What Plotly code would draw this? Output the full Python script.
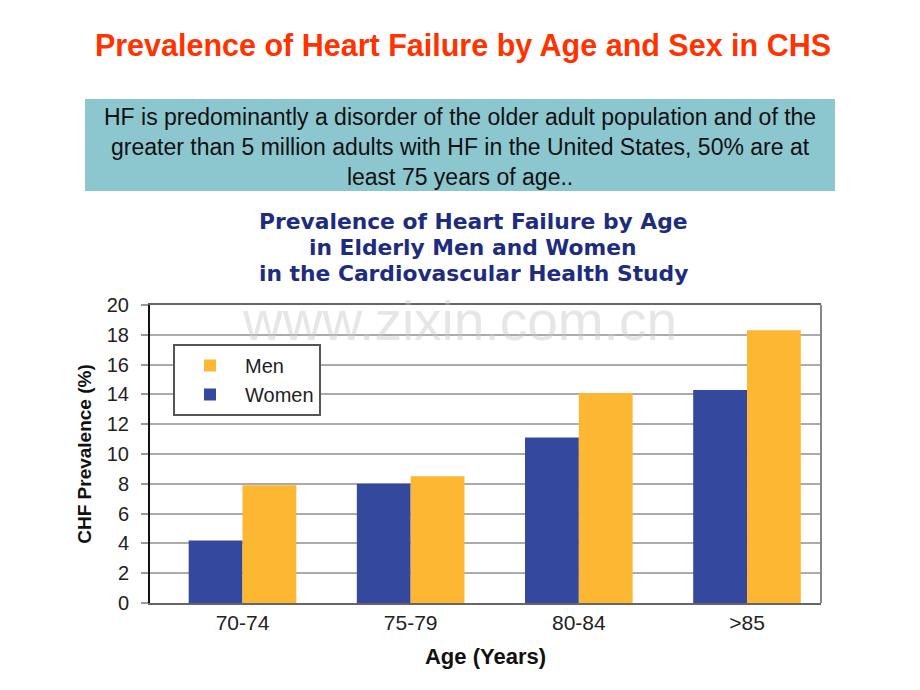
import plotly.graph_objects as go

# ---- data ----
age_groups = ["70-74", "75-79", "80-84", ">85"]
women = [4.2, 8.0, 11.1, 14.3]
men = [7.9, 8.5, 14.1, 18.3]
y_ticks = [0, 2, 4, 6, 8, 10, 12, 14, 16, 18, 20]

# ---- layout geometry (pixels; page has an 8px body margin) ----
OFF = 8
W, H = 920, 690
ML, MT = 150 - OFF, 305 - OFF
MR, MB = W - (821 - OFF), H - (603 - OFF)
PW, PH = W - ML - MR, H - MT - MB


def px(x):
    return (x - OFF - ML) / PW


def py(y):
    return (H - MB - (y - OFF)) / PH


WOMEN_C = "#34499D"
MEN_C = "#FDB733"
SANS = "Liberation Sans, Arial, Helvetica, sans-serif"
WIDE = "DejaVu Sans, Verdana, sans-serif"

fig = go.Figure()
fig.add_trace(go.Bar(x=age_groups, y=women, name="Women", marker_color=WOMEN_C,
                     marker_line_width=0))
fig.add_trace(go.Bar(x=age_groups, y=men, name="Men", marker_color=MEN_C,
                     marker_line_width=0))

sub_lines = ["Prevalence of Heart Failure by Age",
             "in Elderly Men and Women",
             "in the Cardiovascular Health Study"]
sub_y = [221, 247, 273]

annotations = [
    dict(text="HF is predominantly a disorder of the older adult population and of the<br>"
              "greater than 5 million adults with HF in the United States, 50% are at<br>"
              "least 75 years of age..",
         xref="paper", yref="paper", x=px(460), y=py(147),
         xanchor="center", yanchor="middle", showarrow=False, align="center",
         font=dict(family=SANS, size=23, color="#111")),
    dict(text="www.zixin.com.cn", xref="paper", yref="paper",
         x=px(459), y=py(321), xanchor="center", yanchor="middle",
         showarrow=False, font=dict(family=SANS, size=55, color="rgba(200,200,200,0.45)")),
]
for t, yy in zip(sub_lines, sub_y):
    annotations.append(dict(text="<b>" + t + "</b>", xref="paper", yref="paper",
                            x=px(473), y=py(yy), xanchor="center", yanchor="middle",
                            showarrow=False,
                            font=dict(family=WIDE, size=21.8, color="#1E2C80")))

fig.update_layout(
    width=W, height=H,
    margin=dict(l=ML, r=MR, t=MT, b=MB, autoexpand=False),
    paper_bgcolor="white", plot_bgcolor="white",
    barmode="group", bargap=0.36, bargroupgap=0,
    showlegend=True,
    legend=dict(x=px(173), y=py(344), xanchor="left", yanchor="top",
                traceorder="reversed", bgcolor="white",
                bordercolor="#555", borderwidth=2,
                font=dict(family=SANS, size=20, color="#222"),
                itemwidth=60, tracegroupgap=0),
    title=dict(text="<b>Prevalence of Heart Failure by Age and Sex in CHS</b>",
               x=(463 - OFF) / W, xanchor="center", xref="container",
               y=1 - (45 - OFF) / H, yanchor="middle", yref="container",
               font=dict(family=SANS, size=30.5, color="#FF3300")),
    xaxis=dict(range=[-0.55, 3.44], showgrid=False,
               showline=True, linecolor="#666", linewidth=2, mirror=True,
               ticks="", tickfont=dict(family=SANS, size=21, color="#222"),
               title=dict(text="<b>Age (Years)</b>", standoff=15,
                          font=dict(family=SANS, size=22, color="#111"))),
    yaxis=dict(range=[0, 20], tickvals=y_ticks, showgrid=True,
               gridcolor="#ABABAB", gridwidth=1.5,
               showline=True, linecolor="#111", linewidth=2,
               ticks="outside", ticklen=7, tickcolor="#999", tickwidth=1.5,
               ticklabelstandoff=8,
               tickfont=dict(family=SANS, size=20, color="#222"),
               title=dict(text="<b>CHF Prevalence (%)</b>", standoff=10,
                          font=dict(family=SANS, size=19, color="#111"))),
    shapes=[
        dict(type="rect", xref="paper", yref="paper",
             x0=px(85), x1=px(835), y0=py(191), y1=py(99),
             fillcolor="#8CC6CF", line=dict(width=0), layer="below"),
        dict(type="line", xref="paper", yref="paper",
             x0=1, x1=1, y0=0, y1=1, line=dict(color="#888", width=2)),
    ],
    annotations=annotations,
)

fig.write_html("out.html")
